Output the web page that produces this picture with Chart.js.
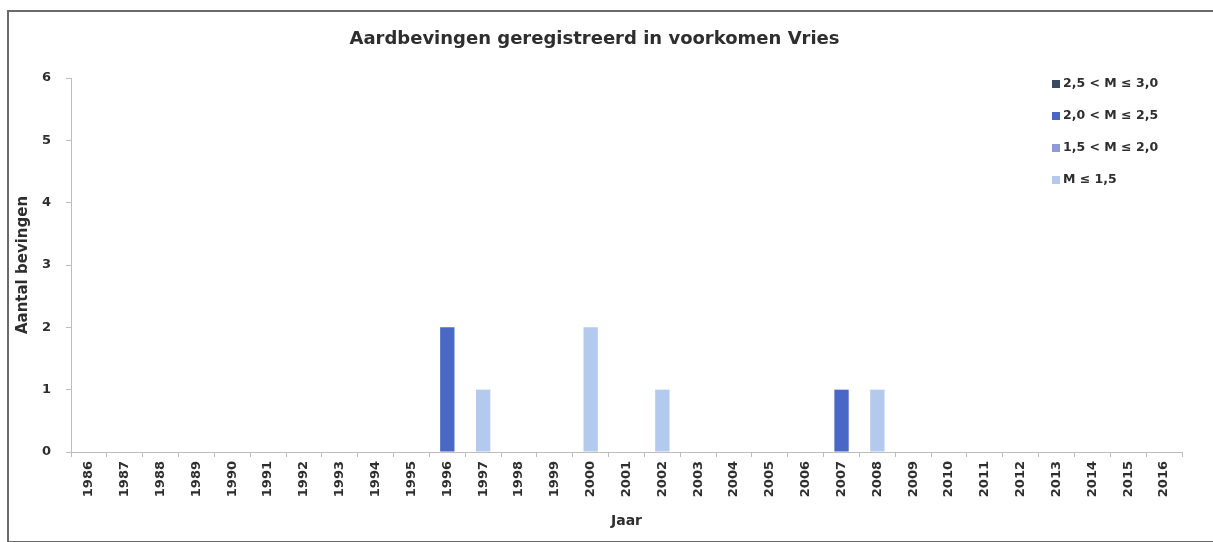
<!DOCTYPE html>
<html lang="nl">

<head>
    <meta charset="UTF-8">
    <title>Aardbevingen Vries</title>
    <script src="https://cdn.jsdelivr.net/npm/chart.js"></script>
    <style>
        html, body { margin: 0; padding: 0; background: #fff; overflow: hidden; }
        #wrap { position: relative; width: 1213px; height: 542px; overflow: hidden; }
        #frame { position: absolute; left: 7px; top: 10px; width: 1260px; height: 529px;
                 border: 2px solid #6a6a6a; border-right: none; }
        #canvas { position: absolute; left: 0; top: 0; }
    </style>
</head>

<body>
    <div id="wrap">
        <div id="frame"></div>
        <canvas id="canvas" width="1213" height="542"></canvas>
    </div>
</body>

</html>
<script>
    // jaren 1986 t/m 2016
    const years = ['1986', '1987', '1988', '1989', '1990', '1991', '1992', '1993', '1994', '1995',
        '1996', '1997', '1998', '1999', '2000', '2001', '2002', '2003', '2004', '2005',
        '2006', '2007', '2008', '2009', '2010', '2011', '2012', '2013', '2014', '2015', '2016'];

    // aantal bevingen per magnitudeklasse
    const m15 = [0, 0, 0, 0, 0, 0, 0, 0, 0, 0, 0, 1, 0, 0, 2, 0, 1, 0, 0, 0, 0, 0, 1, 0, 0, 0, 0, 0, 0, 0, 0];
    const m20 = [0, 0, 0, 0, 0, 0, 0, 0, 0, 0, 0, 0, 0, 0, 0, 0, 0, 0, 0, 0, 0, 0, 0, 0, 0, 0, 0, 0, 0, 0, 0];
    const m25 = [0, 0, 0, 0, 0, 0, 0, 0, 0, 0, 2, 0, 0, 0, 0, 0, 0, 0, 0, 0, 0, 1, 0, 0, 0, 0, 0, 0, 0, 0, 0];
    const m30 = [0, 0, 0, 0, 0, 0, 0, 0, 0, 0, 0, 0, 0, 0, 0, 0, 0, 0, 0, 0, 0, 0, 0, 0, 0, 0, 0, 0, 0, 0, 0];

    const yTicks = [0, 1, 2, 3, 4, 5, 6];

    const txt = '#2e2e2e';
    const fam = '"DejaVu Sans", sans-serif';

    // legenda rechtsboven, bovenste klasse eerst
    const legendPlugin = {
        id: 'sideLegend',
        afterDraw(chart) {
            const c = chart.ctx;
            const sets = chart.data.datasets.slice().reverse();
            c.save();
            c.font = 'bold 12.5px ' + fam;
            c.textBaseline = 'middle';
            sets.forEach((ds, i) => {
                const y = 84 + i * 32;
                c.fillStyle = ds.backgroundColor;
                c.fillRect(1052, y - 4, 8, 8);
                c.fillStyle = txt;
                c.fillText(ds.label, 1063, y);
            });
            c.restore();
        }
    };

    const ctx = document.getElementById('canvas').getContext('2d');
    const chart = new Chart(ctx, {
        type: 'bar',
        data: {
            labels: years,
            datasets: [
                { label: 'M \u2264 1,5', data: m15, backgroundColor: '#b3c9ee' },
                { label: '1,5 < M \u2264 2,0', data: m20, backgroundColor: '#8f9bd6' },
                { label: '2,0 < M \u2264 2,5', data: m25, backgroundColor: '#4a67c6' },
                { label: '2,5 < M \u2264 3,0', data: m30, backgroundColor: '#3b4a63' }
            ]
        },
        options: {
            responsive: false,
            animation: false,
            layout: { padding: { left: 7, right: 31, top: 0, bottom: 0 } },
            datasets: { bar: { barPercentage: 0.8, categoryPercentage: 0.5 } },
            plugins: {
                legend: { display: false },
                tooltip: { enabled: false },
                title: {
                    display: true,
                    text: 'Aardbevingen geregistreerd in voorkomen Vries',
                    color: txt,
                    font: { family: fam, size: 18, weight: 'bold' },
                    padding: { top: 29, bottom: 27.4 }
                }
            },
            scales: {
                x: {
                    stacked: true,
                    grid: { display: true, drawOnChartArea: false, offset: true, tickLength: 5, color: '#bdbdbd' },
                    border: { color: '#bdbdbd' },
                    ticks: {
                        color: txt, minRotation: 90, maxRotation: 90, autoSkip: false, padding: 4,
                        font: { family: fam, size: 13, weight: 'bold' }
                    },
                    title: {
                        display: true, text: 'Jaar', color: txt, padding: { top: 4, bottom: 12 },
                        font: { family: fam, size: 14, weight: 'bold' }
                    },
                    afterFit(s) { s.height = 90; }
                },
                y: {
                    stacked: true,
                    min: 0,
                    max: 6,
                    afterBuildTicks(s) { s.ticks = yTicks.map(v => ({ value: v })); },
                    grid: { display: true, drawOnChartArea: false, tickLength: 5, color: '#bdbdbd' },
                    border: { color: '#bdbdbd' },
                    ticks: {
                        color: txt, padding: 15,
                        font: { family: fam, size: 13, weight: 'bold' }
                    },
                    title: {
                        display: true, text: 'Aantal bevingen', color: txt, padding: { top: 7, bottom: 0 },
                        font: { family: fam, size: 15, weight: 'bold' }
                    },
                    afterFit(s) { s.width = 64; }
                }
            }
        },
        plugins: [legendPlugin]
    });
</script>
